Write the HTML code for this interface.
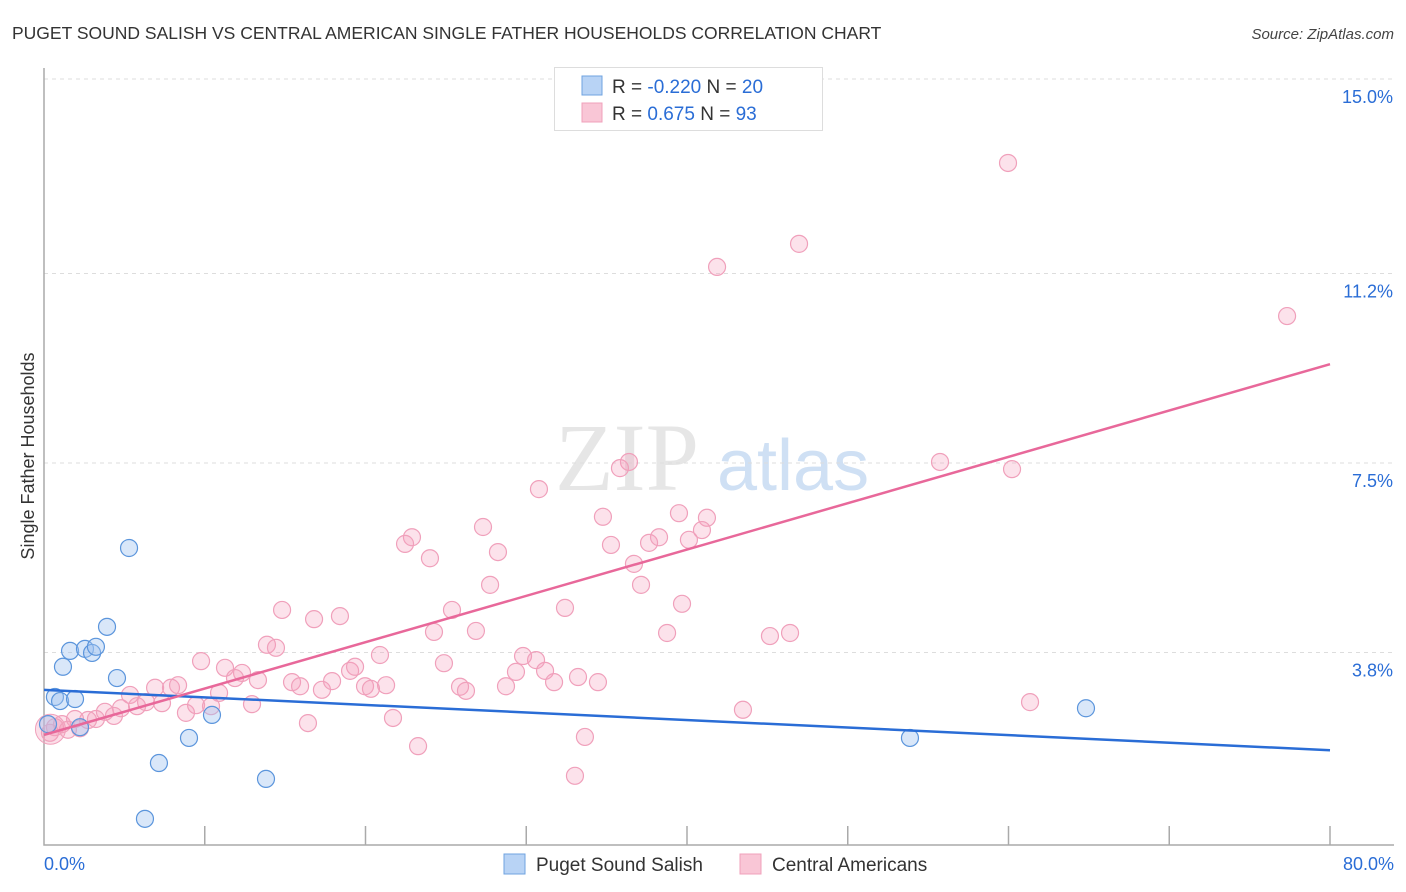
<!DOCTYPE html>
<html><head><meta charset="utf-8"><style>
body{margin:0;background:#fff;font-family:"Liberation Sans",sans-serif}
svg{display:block}
</style></head><body>
<svg id="chart" width="1406" height="892" xmlns="http://www.w3.org/2000/svg" font-family="Liberation Sans, sans-serif">
<text x="12" y="39" font-size="17.5" fill="#333">PUGET SOUND SALISH VS CENTRAL AMERICAN SINGLE FATHER HOUSEHOLDS CORRELATION CHART</text>
<text x="1394" y="39" font-size="15" fill="#444" font-style="italic" text-anchor="end">Source: ZipAtlas.com</text>
<text x="555" y="490" font-size="96" fill="#e6e6e6" font-family="Liberation Serif, serif">ZIP</text>
<text x="717" y="490" font-size="72" fill="#cfe0f4">atlas</text>
<text transform="translate(34,456) rotate(-90)" font-size="18" fill="#333" text-anchor="middle">Single Father Households</text>
<g id="grid"></g>
<g id="axes"></g>
<g id="pink"></g>
<g id="blue"></g>
<g id="trends"></g>
<g>
<rect x="554.5" y="67.5" width="268" height="63" fill="#fff" stroke="#ddd"/>
<rect x="582" y="76" width="20" height="19" fill="#b8d3f5" stroke="#6fa3e0"/>
<rect x="582" y="103" width="20" height="19" fill="#f9c6d6" stroke="#f0a0bb"/>
<text x="612" y="93" font-size="19" fill="#333">R = <tspan fill="#2a6dd6">-0.220</tspan>   N = <tspan fill="#2a6dd6">20</tspan></text>
<text x="612" y="120" font-size="19" fill="#333">R =   <tspan fill="#2a6dd6">0.675</tspan>   N = <tspan fill="#2a6dd6">93</tspan></text>
</g>
<g>
<rect x="504" y="854" width="21" height="20" fill="#b8d3f5" stroke="#6fa3e0"/>
<text x="536" y="871" font-size="19" fill="#333">Puget Sound Salish</text>
<rect x="740" y="854" width="21" height="20" fill="#f9c6d6" stroke="#f0a0bb"/>
<text x="772" y="871" font-size="19" fill="#333">Central Americans</text>
</g>
</svg>
<script>
const yTicks=[3.8,7.5,11.2,15.0];
const yTickLabels=["3.8%","7.5%","11.2%","15.0%"];
const xTicks=[0,10,20,30,40,50,60,70,80];
const blueX=[0.25,0.68,1.0,1.18,1.62,1.93,2.24,2.55,2.99,3.23,3.92,4.54,5.29,7.15,6.28,9.02,10.45,13.81,53.87,64.82];
const blueY=[2.40,2.93,2.85,3.52,3.83,2.89,2.34,3.87,3.79,3.91,4.30,3.30,5.84,1.64,0.55,2.13,2.58,1.33,2.13,2.71];
const pinkX=[59.97,46.97,41.87,77.33,55.74,60.22,36.39,35.83,30.79,27.31,34.77,22.89,22.46,28.24,24.01,35.27,37.64,38.26,39.50,41.24,40.93,40.12,36.70,37.14,27.75,32.41,39.69,25.38,18.41,16.80,14.81,24.26,26.87,38.76,45.16,46.41,13.87,14.43,9.77,11.26,12.32,13.31,11.88,15.43,15.93,17.29,17.92,19.04,19.35,20.90,21.28,19.97,20.34,24.88,25.88,26.25,28.74,29.36,29.80,30.61,31.17,31.73,33.22,34.46,6.91,7.90,8.34,5.35,6.35,7.34,5.79,4.79,3.79,4.35,3.23,2.74,1.93,1.12,0.68,0.37,8.83,9.46,10.39,10.89,12.94,16.42,21.71,23.27,33.65,33.03,43.48,61.34,2.24,1.49];
const pinkY=[13.36,11.78,11.33,10.37,7.52,7.38,7.52,7.40,6.99,6.25,6.45,6.05,5.92,5.76,5.64,5.90,5.94,6.05,6.52,6.43,6.19,6.00,5.53,5.12,5.12,4.67,4.75,4.63,4.51,4.45,4.63,4.20,4.22,4.18,4.12,4.18,3.95,3.89,3.63,3.50,3.40,3.26,3.30,3.22,3.14,3.07,3.24,3.44,3.52,3.75,3.16,3.14,3.09,3.59,3.13,3.05,3.14,3.42,3.73,3.65,3.44,3.22,3.32,3.22,3.11,3.11,3.16,2.97,2.83,2.81,2.75,2.71,2.64,2.56,2.50,2.48,2.50,2.40,2.34,2.23,2.62,2.77,2.75,3.01,2.79,2.42,2.52,1.97,2.15,1.39,2.68,2.83,2.32,2.29];
const blueTrend=[3.07,1.89];
const pinkTrend=[2.19,9.43];
const NS="http://www.w3.org/2000/svg";
const X0=44,X1=1330,Y0=847,YPX=51.2;
function sx(v){return X0+(X1-X0)*v/80;}
function sy(v){return Y0-v*YPX;}
function mk(tag,attrs,parent){const e=document.createElementNS(NS,tag);for(const k in attrs)e.setAttribute(k,attrs[k]);document.getElementById(parent).appendChild(e);return e;}
yTicks.forEach((t,i)=>{
 const l=mk('line',{x1:X0,x2:1394,y1:sy(t),y2:sy(t),stroke:'#ddd','stroke-dasharray':'4,4'},'grid');
 
 
 const tx=mk('text',{x:1393,y:sy(t)+24,'font-size':18,fill:'#2a6dd6','text-anchor':'end'},'grid');
 tx.textContent=yTickLabels[i];
 
 
});
const ax=mk('path',{d:`M${X0} 68V845H1394`,fill:'none',stroke:'#aaa','stroke-width':1.5},'axes');


xTicks.slice(1).forEach(t=>{
 const l=mk('line',{x1:sx(t),x2:sx(t),y1:826,y2:845,stroke:'#aaa','stroke-width':1.5},'axes');
 
 
});
const xl0=mk('text',{x:44,y:870,'font-size':18,fill:'#2a6dd6'},'axes');xl0.textContent='0.0%';


const xl1=mk('text',{x:1394,y:870,'font-size':18,fill:'#2a6dd6','text-anchor':'end'},'axes');xl1.textContent='80.0%';


const big=mk('circle',{cx:sx(0.4),cy:sy(2.3),r:15,fill:'rgba(244,160,190,0.35)',stroke:'#f0a0bb'},'pink');


pinkX.forEach((v,i)=>{
 const c=mk('circle',{cx:sx(v),cy:sy(pinkY[i]),r:8.5,fill:'rgba(244,160,190,0.3)',stroke:'#f0a0bb','stroke-width':1.2},'pink');
 
 
});
blueX.forEach((v,i)=>{
 const c=mk('circle',{cx:sx(v),cy:sy(blueY[i]),r:8.5,fill:'rgba(160,195,240,0.4)',stroke:'#5b95dc','stroke-width':1.2},'blue');
 
 
});
const bt=mk('line',{x1:sx(0),x2:sx(80),y1:sy(blueTrend[0]),y2:sy(blueTrend[1]),stroke:'#2a6dd6','stroke-width':2.5},'trends');


const pt=mk('line',{x1:sx(0),x2:sx(80),y1:sy(pinkTrend[0]),y2:sy(pinkTrend[1]),stroke:'#e8689a','stroke-width':2.5},'trends');


</script>
</body></html>
